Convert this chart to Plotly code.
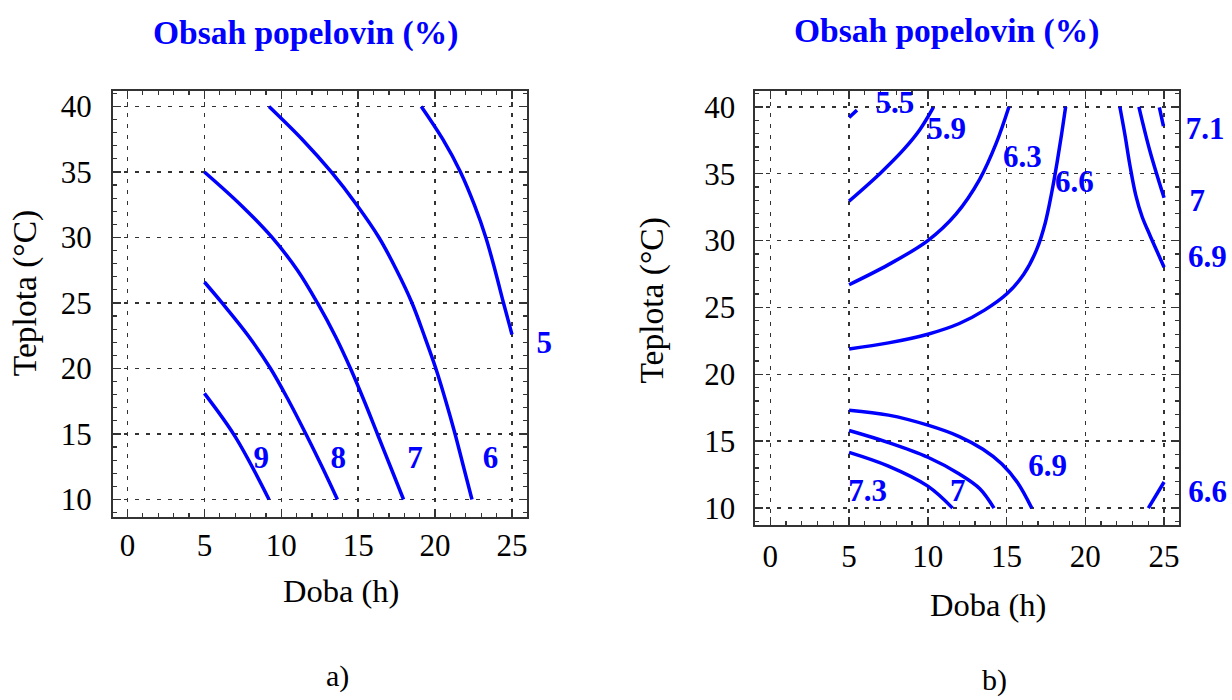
import plotly.graph_objects as go

# ---------------- data ----------------
# Panel a) contour lines: level, x (Doba h), y (Teplota °C)
A_LEVELS = ["9", "8", "7", "6", "5"]
A_X = [
    [5, 7, 9.2],
    [5, 6.15, 7.85, 9.3, 10.5, 11.6, 12.65, 13.65],
    [5, 7.35, 9.4, 11.05, 12.35, 13.5, 14.5, 15.4, 16.25, 17.1, 17.95],
    [9.2, 11.35, 13.25, 14.9, 16.35, 17.5, 18.5, 19.3, 20.05, 20.7, 21.3, 21.85, 22.4],
    [19.1, 20.5, 21.65, 22.55, 23.3, 23.9, 24.45, 25.0],
]
A_Y = [
    [18.1, 14.8, 10.0],
    [26.6, 25.0, 22.5, 20.0, 17.5, 15.0, 12.5, 10.0],
    [35.0, 32.5, 30.0, 27.5, 25.0, 22.5, 20.0, 17.5, 15.0, 12.5, 10.0],
    [40.0, 37.5, 35.0, 32.5, 30.0, 27.5, 25.0, 22.5, 20.0, 17.5, 15.0, 12.5, 10.0],
    [40.0, 37.5, 35.0, 32.5, 30.0, 27.5, 25.0, 22.6],
]
A_LABEL_X = [8.7, 13.7, 18.7, 23.6, 27.1]
A_LABEL_Y = [13.0, 13.0, 13.0, 13.0, 21.8]

# Panel b) contour lines
B_X = [
    [5, 5.5],
    [5, 6.95, 8.5, 9.5, 10.35],
    [5, 7.5, 10, 11.8, 13.3, 14.35, 15.15],
    [5, 7.5, 10, 12, 13.6, 15, 16.1, 16.9, 17.45, 17.85, 18.2, 18.5, 18.75],
    [5, 7.5, 10, 12, 13.5, 14.7, 15.7, 16.6],
    [5, 7.5, 10, 12, 13.3, 14.2],
    [5, 7.46, 10, 11.57],
    [22.19, 22.5, 22.85, 23.2, 23.6, 24.1, 24.55, 25.0],
    [23.4, 24.1, 25.0],
    [24.7, 24.96],
    [24.0, 25.0],
]
B_Y = [
    [39.2, 39.75],
    [32.95, 35.0, 36.85, 38.3, 39.95],
    [26.7, 28.2, 30.0, 32.0, 34.6, 37.3, 40.0],
    [21.9, 22.35, 23.0, 23.8, 24.8, 26.0, 27.5, 29.3, 31.3, 33.5, 35.8, 38.0, 40.0],
    [17.32, 16.95, 16.2, 15.35, 14.4, 13.3, 11.9, 10.0],
    [15.8, 14.9, 13.8, 12.55, 11.45, 10.0],
    [14.17, 13.16, 11.64, 10.0],
    [40.0, 38.0, 35.5, 33.4, 31.8, 30.4, 29.2, 28.0],
    [40.0, 36.7, 33.2],
    [39.95, 38.55],
    [10.0, 11.95],
]
B_LABELS = ["5.5", "5.9", "6.3", "6.6", "6.9", "7", "7.3", "7.1", "7", "6.9", "6.6"]
B_LABEL_X = [7.9, 11.2, 16.0, 19.3, 17.6, 11.9, 6.18, 27.6, 27.1, 27.75, 27.77]
B_LABEL_Y = [40.1, 38.2, 36.05, 34.2, 13.0, 11.14, 11.14, 38.2, 32.8, 28.6, 11.0]

TITLE = "Obsah popelovin (%)"
X_TITLE = "Doba (h)"
Y_TITLE = "Teplota (°C)"
PANEL_TAGS = ["a)", "b)"]

# ---------------- figure ----------------
W, H = 1232, 700
BLUE = "#0000FF"
SERIF = "Liberation Serif, Times New Roman, serif"
FRAME = "#333333"

XR = [-0.95, 25.95]
YR = [8.7, 41.2]

# plot frames in pixels
A_L, A_R, A_T, A_B = 113, 527, 90, 517
B_L, B_R, B_T, B_B = 756, 1180, 90, 526
# label layers extend further right (same scale) so outside labels stay visible
A_LBL_R = 600
B_LBL_R = 1232


def ext_range(left, right, new_right):
    span = XR[1] - XR[0]
    return [XR[0], XR[0] + span * (new_right - left) / (right - left)]


fig = go.Figure()

LINE = dict(color=BLUE, width=3.5, shape="spline", smoothing=1.0)

for xs, ys in zip(A_X, A_Y):
    fig.add_trace(go.Scatter(x=xs, y=ys, mode="lines", xaxis="x", yaxis="y",
                             line=LINE, hoverinfo="skip", showlegend=False))
for xs, ys in zip(B_X, B_Y):
    fig.add_trace(go.Scatter(x=xs, y=ys, mode="lines", xaxis="x2", yaxis="y2",
                             line=LINE, hoverinfo="skip", showlegend=False))

LABEL_FONT = dict(family=SERIF, size=31, color=BLUE, weight="bold")
fig.add_trace(go.Scatter(x=A_LABEL_X, y=A_LABEL_Y, text=A_LEVELS, mode="text",
                         xaxis="x3", yaxis="y3", cliponaxis=False,
                         textposition="middle center", textfont=LABEL_FONT,
                         hoverinfo="skip", showlegend=False))
fig.add_trace(go.Scatter(x=B_LABEL_X, y=B_LABEL_Y, text=B_LABELS, mode="text",
                         xaxis="x4", yaxis="y4", cliponaxis=False,
                         textposition="middle center", textfont=LABEL_FONT,
                         hoverinfo="skip", showlegend=False))

annotations = []


def add_text(text, x, y, size, color="black", bold=False, angle=0):
    annotations.append(dict(x=x / W, y=1 - y / H, xref="paper", yref="paper", text=text,
                            showarrow=False, xanchor="center", yanchor="middle",
                            textangle=angle,
                            font=dict(family=SERIF, size=size, color=color,
                                      weight="bold" if bold else "normal")))


add_text(TITLE, 306, 32, 33.5, BLUE, bold=True)
add_text(TITLE, 947, 30, 33.5, BLUE, bold=True)
add_text(X_TITLE, 341, 592, 32.5)
add_text(X_TITLE, 989, 606, 32.5)
add_text(Y_TITLE, 25, 293, 33.5, angle=-90)
add_text(Y_TITLE, 653, 300, 33.5, angle=-90)
add_text(PANEL_TAGS[0], 338, 677, 30)
add_text(PANEL_TAGS[1], 995, 681, 30)


def axis_cfg(domain, anchor, rng, standoff):
    return dict(domain=domain, anchor=anchor, range=rng, tick0=0, dtick=5,
                ticks="inside", ticklen=8, tickwidth=1.5, tickcolor=FRAME,
                mirror="ticks", showline=True, linecolor=FRAME, linewidth=2,
                showgrid=True, gridcolor=FRAME, gridwidth=1.5, griddash="4px,7px",
                zeroline=False, ticklabelstandoff=standoff,
                tickfont=dict(family=SERIF, size=31, color="black"),
                minor=dict(dtick=1, ticks="inside", ticklen=4, tickwidth=1.2,
                           tickcolor=FRAME, showgrid=False),
                fixedrange=True)


def hidden_axis(domain, anchor, rng):
    return dict(domain=domain, anchor=anchor, range=rng, visible=False,
                showgrid=False, zeroline=False, fixedrange=True)


fig.update_layout(
    width=W, height=H,
    margin=dict(l=0, r=0, t=0, b=0),
    paper_bgcolor="white", plot_bgcolor="rgba(0,0,0,0)",
    showlegend=False,
    xaxis=axis_cfg([A_L / W, A_R / W], "y", XR, 0),
    yaxis=axis_cfg([1 - A_B / H, 1 - A_T / H], "x", YR, 13),
    xaxis2=axis_cfg([B_L / W, B_R / W], "y2", XR, 2),
    yaxis2=axis_cfg([1 - B_B / H, 1 - B_T / H], "x2", YR, 12),
    xaxis3=hidden_axis([A_L / W, A_LBL_R / W], "y3", ext_range(A_L, A_R, A_LBL_R)),
    yaxis3=hidden_axis([1 - A_B / H, 1 - A_T / H], "x3", YR),
    xaxis4=hidden_axis([B_L / W, B_LBL_R / W], "y4", ext_range(B_L, B_R, B_LBL_R)),
    yaxis4=hidden_axis([1 - B_B / H, 1 - B_T / H], "x4", YR),
    annotations=annotations,
)

# remove the browser's default 8px body margin so the figure fills the window exactly
fig.write_html(
    "out.html",
    config={"displayModeBar": False, "staticPlot": True},
    post_script="document.body.style.margin='0';document.body.style.overflow='hidden';",
)
